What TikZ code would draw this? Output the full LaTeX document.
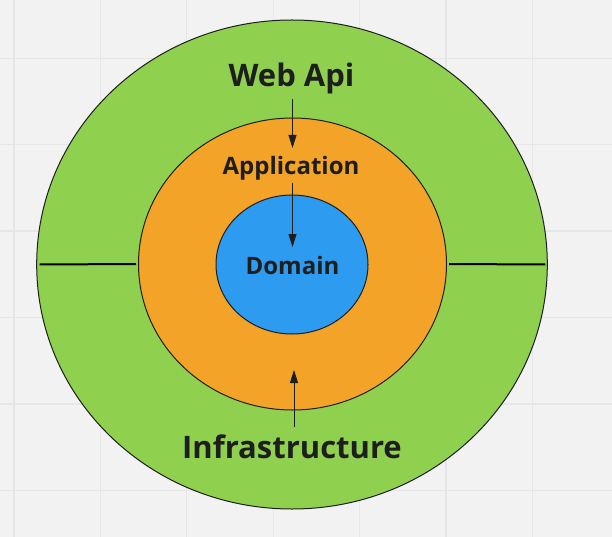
\documentclass[tikz,border=0pt]{standalone}
\usepackage{fontspec}
\setmainfont{Open Sans}
\usetikzlibrary{shapes.geometric,arrows.meta}

\definecolor{boardgray}{HTML}{F2F2F2}
\definecolor{gridgray}{HTML}{E6E6E6}
\definecolor{layergreen}{HTML}{8FD14F}
\definecolor{layerorange}{HTML}{F3A327}
\definecolor{layerblue}{HTML}{2D9BF0}
\definecolor{inkdark}{HTML}{1E1E1E}

\tikzstyle{layer}=[ellipse,
                   draw=inkdark,
                   line width=1pt,
                   inner sep=0pt]
\tikzstyle{biglabel}=[font=\fontsize{31}{37}\selectfont\bfseries,
                      text=inkdark,
                      anchor=base,
                      inner sep=0pt]
\tikzstyle{smalllabel}=[font=\fontsize{24}{29}\selectfont\bfseries,
                        text=inkdark,
                        anchor=base,
                        inner sep=0pt]
\tikzstyle{dependency}=[draw=inkdark,
                        line width=0.8pt,
                        -{Stealth[length=13pt,width=8pt,inset=0pt]}]

\begin{document}
\begin{tikzpicture}[x=1pt,y=-1pt]
    \useasboundingbox (0,0) rectangle (612,537);
    \fill [boardgray] (0,0) rectangle (612,537);
    % board grid
    \foreach \gx in {14,100.4,...,612}
        \draw [gridgray, line width=1.3pt] (\gx,0) -- (\gx,537);
    \foreach \gy in {58.3,144.7,...,537}
        \draw [gridgray, line width=1.3pt] (0,\gy) -- (612,\gy);

    % layers
    \node [layer, fill=layergreen, minimum width=510.6pt, minimum height=489pt] (outer) at (292,264.5) {};
    \node [layer, fill=layerorange, minimum width=308pt, minimum height=292pt] (middle) at (292.5,264) {};
    \node [layer, fill=layerblue, minimum width=152pt, minimum height=139pt] (inner) at (292,264.5) {};

    % split of the outer ring
    \draw [black, line width=2pt] ([xshift=3.5pt]outer.west) -- ([xshift=-2pt]middle.west);
    \draw [black, line width=2pt] ([xshift=2pt]middle.east) -- ([xshift=-2.5pt]outer.east);

    % labels
    \node [biglabel] (webapi) at (291.5,86.7) {Web Api};
    \node [smalllabel] (application) at (291,175) {Application};
    \node [smalllabel] (domain) at (292.5,274) {Domain};
    \node [biglabel] (infra) at (292,458) {Infrastructure};

    % dependencies
    \coordinate (webapitail) at (292.5,99);
    \coordinate (apphead) at (292.5,148);
    \coordinate (apptail) at (292.5,183);
    \coordinate (domainhead) at (292.5,247);
    \coordinate (infratail) at (294,427);
    \coordinate (infrahead) at (294,370);
    \draw [dependency] (webapitail) -- (apphead);
    \draw [dependency] (apptail) -- (domainhead);
    \draw [dependency] (infratail) -- (infrahead);
\end{tikzpicture}
\end{document}
